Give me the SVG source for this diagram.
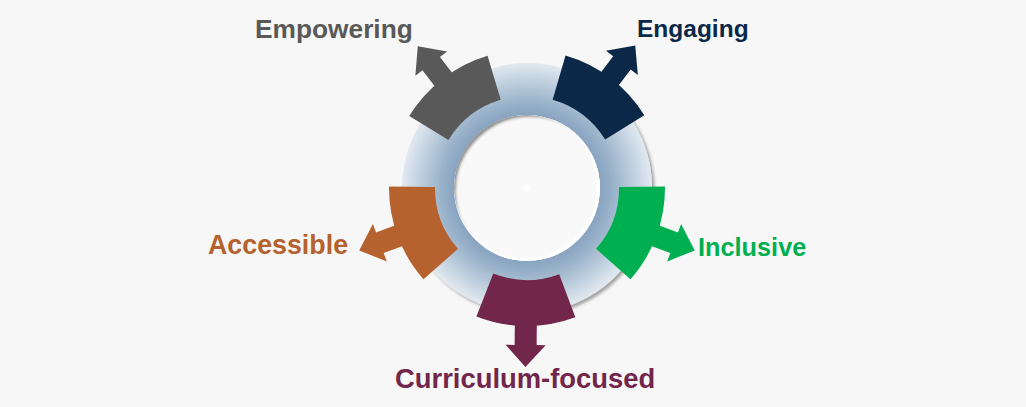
<svg xmlns="http://www.w3.org/2000/svg" width="1026" height="407" viewBox="0 0 1026 407">
  <defs>
    <radialGradient id="ringGrad" gradientUnits="userSpaceOnUse" cx="527" cy="188" r="125">
      <stop offset="0.58" stop-color="#87a3c0"/>
      <stop offset="0.70" stop-color="#9cb4cb"/>
      <stop offset="0.88" stop-color="#c5d4e2"/>
      <stop offset="1" stop-color="#e2e9f0"/>
    </radialGradient>
    <filter id="dropShadow" x="-20%" y="-20%" width="140%" height="140%">
      <feDropShadow dx="2.5" dy="2.5" stdDeviation="1.5" flood-color="#000" flood-opacity="0.35"/>
    </filter>
    <filter id="blur" x="-20%" y="-20%" width="140%" height="140%">
      <feGaussianBlur stdDeviation="1.5"/>
    </filter>
    <clipPath id="holeClip">
      <circle cx="527" cy="188" r="73"/>
    </clipPath>
    <path id="seg" d="M 85.89 -32.97 L 128.83 -49.45 A 138 138 0 0 1 128.83 49.45 L 85.89 32.97 A 92 92 0 0 0 85.89 -32.97 Z"/>
    <path id="arr" d="M 120 -11 L 157 -11 L 157 -20 L 179 0 L 157 20 L 157 11 L 120 11 Z"/>
  </defs>
  <style>
    .lbl { font-family: "Liberation Sans", Arial, sans-serif; font-weight: bold; }
  </style>
  <rect width="1026" height="407" fill="#f7f7f7"/>

  <g id="ring">
    <path d="M 652 188 A 125 125 0 1 0 402 188 A 125 125 0 1 0 652 188 Z M 600 188 A 73 73 0 1 1 454 188 A 73 73 0 1 1 600 188 Z" fill="url(#ringGrad)" fill-rule="evenodd" filter="url(#dropShadow)"/>
    <circle cx="527" cy="188" r="73" fill="#f9f9f9"/>
    <g clip-path="url(#holeClip)">
      <circle cx="530.5" cy="191.5" r="80" fill="none" stroke="#6e6e6e" stroke-width="10" filter="url(#blur)" opacity="0.8"/>
      <circle cx="525.5" cy="186.5" r="73" fill="none" stroke="#ffffff" stroke-width="3"/>
    </g>
    <circle cx="527" cy="188" r="3.5" fill="#ffffff"/>
  </g>

  <g id="curriculum-focused" fill="#72264b">
    <use href="#seg" transform="translate(527,188) rotate(90.5)"/>
    <text class="lbl" x="395" y="388" font-size="27.4">Curriculum-focused</text>
  </g>
  <g id="accessible" fill="#b5622e">
    <use href="#seg" transform="translate(527,188) rotate(159.6)"/>
    <text class="lbl" x="208" y="254" font-size="26.8">Accessible</text>
  </g>
  <g id="empowering" fill="#595959">
    <use href="#seg" transform="translate(527,188) rotate(232.4)"/>
    <text class="lbl" x="255" y="38" font-size="26.3">Empowering</text>
  </g>
  <g id="engaging" fill="#0b2849">
    <use href="#seg" transform="translate(527,188) rotate(307.2)"/>
    <text class="lbl" x="637" y="37" font-size="24.5">Engaging</text>
  </g>
  <g id="inclusive" fill="#00b050">
    <use href="#seg" transform="translate(527,188) rotate(20.4)"/>
    <text class="lbl" x="698" y="256" font-size="25.3">Inclusive</text>
  </g>

  <g id="connectors">
    <use href="#arr" fill="#72264b" transform="translate(527,188) rotate(90.5)"/>
    <use href="#arr" fill="#b5622e" transform="translate(527,188) rotate(159.6)"/>
    <use href="#arr" fill="#595959" transform="translate(527,188) rotate(232.4)"/>
    <use href="#arr" fill="#0b2849" transform="translate(527,188) rotate(307.2)"/>
    <use href="#arr" fill="#00b050" transform="translate(527,188) rotate(20.4)"/>
  </g>
</svg>
